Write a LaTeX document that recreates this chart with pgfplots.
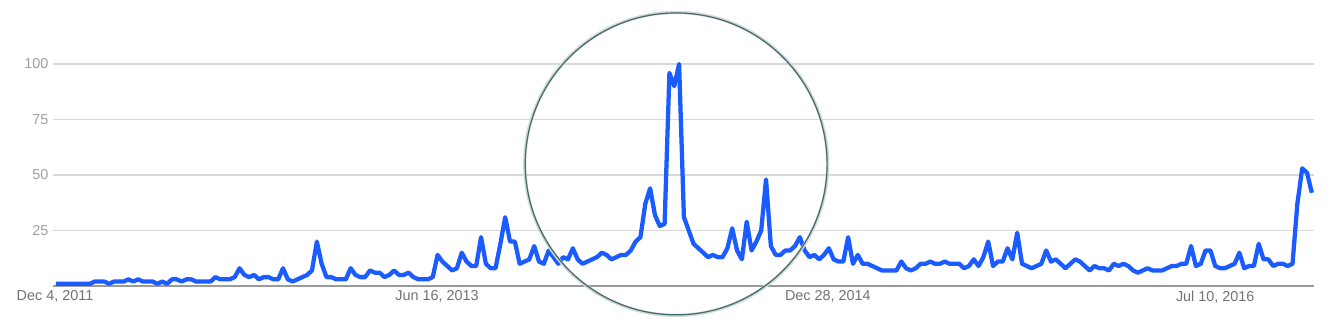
\documentclass[border=0pt]{standalone}
\usepackage{pgfplots}
\usepackage{pgfplotstable}
\pgfplotsset{compat=1.18}
\usepackage{fontspec}
\setmainfont{Liberation Sans}
\definecolor{trendblue}{HTML}{1A5CFF}
\definecolor{gridgray}{HTML}{D8D8D8}
\definecolor{axisgray}{HTML}{9A9A9A}
\definecolor{labelgray}{HTML}{737373}
\definecolor{ylabgray}{HTML}{A0A0A0}
\definecolor{ringteal}{HTML}{3F6B6B}
\definecolor{ringshadow}{HTML}{D4D8D8}
\pgfplotstableread{
v
1
1
1
1
1
1
1
1
2
2
2
1
2
2
2
3
2
3
2
2
2
1
2
1
3
3
2
3
3
2
2
2
2
4
3
3
3
4
8
5
4
5
3
4
4
3
3
8
3
2
3
4
5
7
20
10
4
4
3
3
3
8
5
4
4
7
6
6
4
5
7
5
5
6
4
3
3
3
4
14
11
9
7
8
15
11
9
9
22
10
8
8
19
31
20
20
10
11
12
18
11
10
16
13
10
13
12
17
12
10
11
12
13
15
14
12
13
14
14
16
20
22
37
44
32
27
28
96
90
100
31
25
19
17
15
13
14
13
13
17
26
16
12
29
16
20
25
48
18
14
14
16
16
18
22
16
13
14
12
14
17
12
11
11
22
10
14
10
10
9
8
7
7
7
7
11
8
7
8
10
10
11
10
10
11
10
10
10
8
9
12
9
13
20
9
11
11
17
12
24
10
9
8
9
10
16
11
12
10
8
10
12
11
9
7
9
8
8
7
10
9
10
9
7
6
7
8
7
7
7
8
9
9
10
10
18
9
10
16
16
9
8
8
9
10
15
8
9
9
19
12
12
9
10
10
9
10
37
53
51
42
}\trend
\begin{document}
\begin{tikzpicture}
\useasboundingbox[fill=white] (-39.75pt,-33.75pt) rectangle (966pt,214.5pt);
\begin{axis}[
  at={(0,0)}, anchor=south west,
  scale only axis, width=945.75pt, height=166.5pt,
  xmin=-0.62, xmax=260.45, ymin=0, ymax=100,
  clip=false,
  axis line style={draw=none},
  major tick length=0pt,
  ytick={25,50,75,100},
  ymajorgrids,
  grid style={gridgray, line width=1pt},
  extra y ticks={0},
  extra y tick labels={},
  extra y tick style={grid style={axisgray, line width=1.1pt}},
  xtick={-0.2,78.9,159.8,240},
  xticklabels={{Dec 4, 2011},{Jun 16, 2013},{Dec 28, 2014},{Jul 10, 2016}},
  /pgf/number format/assume math mode=true,
  yticklabel style={font=\fontsize{10.8}{12}\selectfont, text=ylabgray},
  xticklabel style={font=\fontsize{10.8}{12}\selectfont, text=labelgray},
]
\addplot[trendblue, line width=3.2pt, line join=round, mark=none]
  table[x expr=\coordindex, y=v]{\trend};
\coordinate (cc) at (axis cs:128.4,55);
\end{axis}
\draw[ringshadow, line width=2.4pt] (cc) circle[radius=113.6pt];
\draw[ringteal, line width=0.9pt] (cc) circle[radius=113.2pt];
\end{tikzpicture}
\end{document}
